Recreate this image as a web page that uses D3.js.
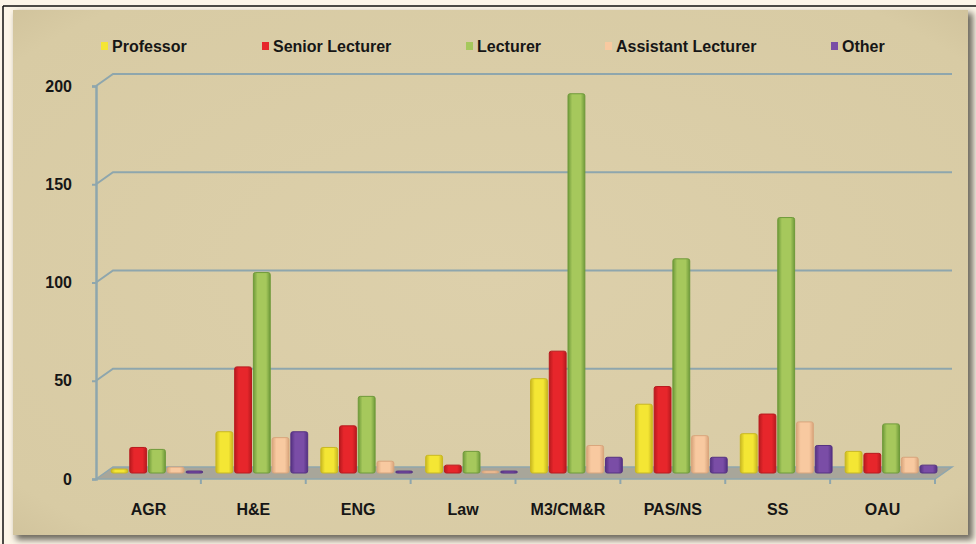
<!DOCTYPE html>
<html>
<head>
<meta charset="utf-8">
<script src="https://cdn.jsdelivr.net/npm/d3@7"></script>
<style>
  body { margin: 0; background: #fdf6e8; }
  svg { display: block; }
  .lbl { font-family: "Liberation Sans", Arial, sans-serif; font-weight: bold; fill: #161616; }
</style>
</head>
<body>
<div id="chart"></div>
<script>
var categories = ["AGR", "H&E", "ENG", "Law", "M3/CM&R", "PAS/NS", "SS", "OAU"];
var seriesNames = ["Professor", "Senior Lecturer", "Lecturer", "Assistant Lecturer", "Other"];
var professor = [2, 21, 13, 9, 48, 35, 20, 11];
var seniorLecturer = [13, 54, 24, 4, 62, 44, 30, 10];
var lecturer = [12, 102, 39, 11, 193, 109, 130, 25];
var assistantLecturer = [3, 18, 6, 1, 14, 19, 26, 8];
var other = [1, 21, 1, 1, 8, 8, 14, 4];
var yTicks = [0, 50, 100, 150, 200];
var colors = ["#f4e634", "#e7262b", "#a6c85c", "#f8c9a0", "#7a4da6"];
var edges = ["#c9b820", "#b81a1e", "#6f9a3a", "#d9a57c", "#553282"];

var W = 976, H = 544;
var svg = d3.select("#chart").append("svg").attr("width", W).attr("height", H);

// page frame
svg.append("rect").attr("width", W).attr("height", H).attr("fill", "#fdf6e8");
svg.append("line").attr("x1", 3).attr("x2", W).attr("y1", 6).attr("y2", 6).attr("stroke", "#111").attr("stroke-width", 1.5);
svg.append("line").attr("x1", 3).attr("x2", 3).attr("y1", 6).attr("y2", H).attr("stroke", "#111").attr("stroke-width", 1.5);

var defs = svg.append("defs");
var blur = defs.append("filter").attr("id", "sh").attr("x", "-5%").attr("y", "-5%").attr("width", "110%").attr("height", "110%");
blur.append("feGaussianBlur").attr("stdDeviation", 3);

// panel with shadow
svg.append("rect").attr("x", 16).attr("y", 13).attr("width", 957).attr("height", 527)
    .attr("fill", "#6e6a5e").attr("filter", "url(#sh)");
var pg = defs.append("radialGradient").attr("id", "panel").attr("cx", "50%").attr("cy", "50%").attr("r", "75%");
pg.append("stop").attr("offset", "0%").attr("stop-color", "#ddd0ab");
pg.append("stop").attr("offset", "85%").attr("stop-color", "#d8cba4");
pg.append("stop").attr("offset", "100%").attr("stop-color", "#cdbf98");
svg.append("rect").attr("x", 13).attr("y", 10).attr("width", 955).attr("height", 525).attr("fill", "url(#panel)");

// bar gradients (cylinder look)
colors.forEach(function(c, i) {
    var g = defs.append("linearGradient").attr("id", "bg" + i).attr("x1", "0%").attr("x2", "100%");
    g.append("stop").attr("offset", "0%").attr("stop-color", edges[i]);
    g.append("stop").attr("offset", "25%").attr("stop-color", c);
    g.append("stop").attr("offset", "75%").attr("stop-color", c);
    g.append("stop").attr("offset", "100%").attr("stop-color", edges[i]);
});

var x0 = 96, x1 = 935;
var depthX = 17, depthY = -12;

var x = d3.scaleBand().domain(categories).range([x0, x1]);
var xs = d3.scaleBand().domain(seriesNames).range([0, x.bandwidth()]).paddingInner(0.1).paddingOuter(0.35);
var y = d3.scaleLinear().domain([0, 200]).range([479, 86]);

var gridColor = "#8ea6ad";

// back wall gridlines with the 3D corner
svg.selectAll(".grid").data(yTicks.slice(1)).enter().append("path")
    .attr("class", "grid")
    .attr("fill", "none").attr("stroke", gridColor).attr("stroke-width", 2)
    .attr("d", function(d) {
        return "M" + x0 + "," + y(d) + "L" + (x0 + depthX) + "," + (y(d) + depthY) + "L" + (x1 + depthX) + "," + (y(d) + depthY);
    });

// floor
svg.append("path")
    .attr("fill", "#a8a69a").attr("stroke", gridColor).attr("stroke-width", 1.5)
    .attr("d", "M" + x0 + "," + y(0) + "L" + (x0 + depthX) + "," + (y(0) + depthY) +
        "L" + (x1 + depthX) + "," + (y(0) + depthY) + "L" + x1 + "," + y(0) + "Z");

// y axis
var yAxis = svg.append("g").attr("transform", "translate(" + x0 + ",0)")
    .call(d3.axisLeft(y).tickValues(yTicks).tickSize(4).tickPadding(20));
yAxis.select(".domain").attr("stroke", gridColor).attr("stroke-width", 2.5);
yAxis.selectAll(".tick line").attr("stroke", gridColor).attr("stroke-width", 2);
yAxis.selectAll(".tick text").attr("class", "lbl").attr("font-size", 16);

// category boundary ticks on floor front
svg.selectAll(".ctick").data(categories).enter().append("line")
    .attr("x1", function(d) { return x(d) + x.bandwidth(); })
    .attr("x2", function(d) { return x(d) + x.bandwidth(); })
    .attr("y1", y(0)).attr("y2", y(0) + 5)
    .attr("stroke", gridColor).attr("stroke-width", 2);

// x axis labels
var xAxis = svg.append("g").attr("transform", "translate(0," + y(0) + ")")
    .call(d3.axisBottom(x).tickSize(0).tickPadding(25));
xAxis.select(".domain").remove();
xAxis.selectAll(".tick text").attr("class", "lbl").attr("font-size", 16);

// bars at mid depth
var seriesData = [professor, seniorLecturer, lecturer, assistantLecturer, other];
var rows = [];
categories.forEach(function(c, ci) {
    seriesNames.forEach(function(s, si) {
        rows.push({ cat: c, s: s, si: si, v: seriesData[si][ci] });
    });
});
var mx = depthX / 2, my = depthY / 2;
svg.selectAll(".bar").data(rows).enter().append("rect")
    .attr("class", "bar")
    .attr("x", function(d) { return x(d.cat) + xs(d.s) + mx; })
    .attr("y", function(d) { return y(d.v) + my; })
    .attr("width", xs.bandwidth())
    .attr("height", function(d) { return Math.max(2, y(0) - y(d.v)); })
    .attr("rx", 2)
    .attr("fill", function(d) { return "url(#bg" + d.si + ")"; })
    .attr("stroke", function(d) { return edges[d.si]; })
    .attr("stroke-width", 1);

// legend
var legendX = [101, 262, 466, 605, 831];
var lg = svg.selectAll(".leg").data(seriesNames).enter().append("g")
    .attr("transform", function(d, i) { return "translate(" + legendX[i] + ",46)"; });
lg.append("rect").attr("x", 0).attr("y", -4).attr("width", 7).attr("height", 8)
    .attr("fill", function(d, i) { return colors[i]; });
lg.append("text").attr("class", "lbl").attr("x", 11).attr("dy", "0.35em").attr("font-size", 16)
    .text(function(d) { return d; });
</script>
</body>
</html>
